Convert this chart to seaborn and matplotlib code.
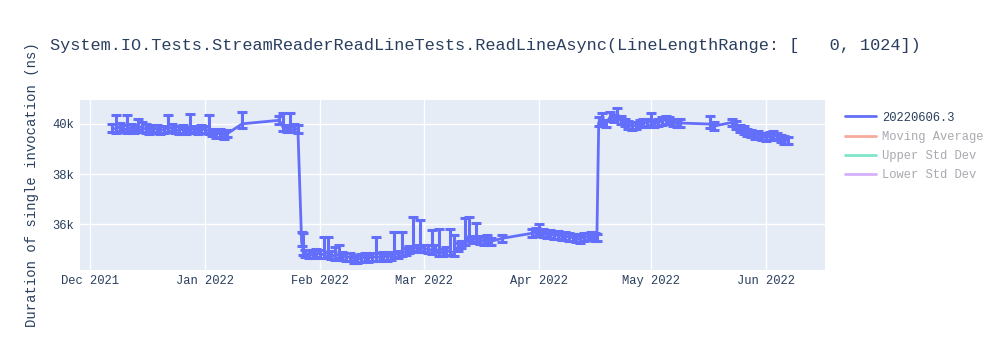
import matplotlib
matplotlib.use("Agg")
import matplotlib.pyplot as plt
import matplotlib.dates as mdates
from matplotlib.lines import Line2D
import seaborn as sns
import pandas as pd
import numpy as np

# ---------------- data ----------------
dates = [
    "2021-12-07", "2021-12-08", "2021-12-09", "2021-12-10", "2021-12-11", "2021-12-12",
    "2021-12-13", "2021-12-14", "2021-12-15", "2021-12-16", "2021-12-17", "2021-12-18",
    "2021-12-19", "2021-12-20", "2021-12-21", "2021-12-22", "2021-12-23", "2021-12-24",
    "2021-12-25", "2021-12-26", "2021-12-27", "2021-12-28", "2021-12-29", "2021-12-30",
    "2021-12-31", "2022-01-01", "2022-01-02", "2022-01-03", "2022-01-04", "2022-01-05",
    "2022-01-06", "2022-01-07", "2022-01-11", "2022-01-21", "2022-01-22", "2022-01-23",
    "2022-01-24", "2022-01-25", "2022-01-26", "2022-01-27", "2022-01-27 12:00",
    "2022-01-28", "2022-01-29", "2022-01-30", "2022-01-31", "2022-02-01", "2022-02-02",
    "2022-02-03", "2022-02-04", "2022-02-05", "2022-02-06", "2022-02-07", "2022-02-08",
    "2022-02-09", "2022-02-10", "2022-02-11", "2022-02-12", "2022-02-13", "2022-02-14",
    "2022-02-15", "2022-02-16", "2022-02-17", "2022-02-18", "2022-02-19", "2022-02-20",
    "2022-02-21", "2022-02-22", "2022-02-23", "2022-02-24", "2022-02-25", "2022-02-26",
    "2022-02-27", "2022-02-28", "2022-03-01", "2022-03-02", "2022-03-03", "2022-03-04",
    "2022-03-05", "2022-03-06", "2022-03-07", "2022-03-08", "2022-03-09", "2022-03-10",
    "2022-03-11", "2022-03-12", "2022-03-13", "2022-03-14", "2022-03-15", "2022-03-16",
    "2022-03-17", "2022-03-18", "2022-03-19", "2022-03-22", "2022-03-30", "2022-03-31",
    "2022-04-01", "2022-04-02", "2022-04-03", "2022-04-04", "2022-04-05", "2022-04-06",
    "2022-04-07", "2022-04-08", "2022-04-09", "2022-04-10", "2022-04-11", "2022-04-12",
    "2022-04-13", "2022-04-14", "2022-04-15", "2022-04-16", "2022-04-16 12:00",
    "2022-04-17", "2022-04-18", "2022-04-19", "2022-04-20", "2022-04-21", "2022-04-22",
    "2022-04-23", "2022-04-24", "2022-04-25", "2022-04-26", "2022-04-27", "2022-04-28",
    "2022-04-29", "2022-04-30", "2022-05-01", "2022-05-02", "2022-05-03", "2022-05-04",
    "2022-05-05", "2022-05-06", "2022-05-07", "2022-05-08", "2022-05-09", "2022-05-17",
    "2022-05-18", "2022-05-23", "2022-05-24", "2022-05-25", "2022-05-26", "2022-05-27",
    "2022-05-28", "2022-05-29", "2022-05-30", "2022-05-31", "2022-06-01", "2022-06-02",
    "2022-06-03", "2022-06-04", "2022-06-05", "2022-06-06", "2022-06-07",
]

durations = [
    39820, 39780, 39870, 39800, 39760, 39840,
    39780, 39900, 39830, 39780, 39720, 39800,
    39780, 39740, 39760, 39800, 39840, 39760,
    39740, 39780, 39720, 39800, 39760, 39720,
    39790, 39760, 39720, 39650, 39580, 39620,
    39550, 39600, 39990, 40130, 39850, 39800,
    39900, 39820, 39780, 35300, 34950,
    34850, 34820, 34800, 34860, 34830, 34800,
    34900, 34780, 34760, 34800, 34740, 34720,
    34700, 34640, 34620, 34660, 34700, 34680,
    34700, 34720, 34700, 34740, 34720, 34760,
    34860, 34800, 34900, 34920, 35000, 35100,
    35050, 35080, 35040, 35020, 34980, 35050,
    34900, 34880, 34950, 34920, 34880, 35100,
    35200, 35350, 35500, 35400, 35450, 35380,
    35350, 35420, 35330, 35450, 35650, 35700,
    35720, 35650, 35600, 35620, 35560, 35580,
    35520, 35540, 35500, 35480, 35460, 35420,
    35500, 35520, 35560, 35500, 35480,
    40050, 40150, 40000, 40250, 40200, 40350,
    40150, 40050, 39950, 39900, 39920, 40000,
    40050, 40020, 40100, 40000, 40050, 40100,
    40150, 40120, 40050, 40000, 40020, 39980,
    39900, 40050, 39950, 39800, 39750, 39650,
    39600, 39520, 39560, 39480, 39450, 39500,
    39550, 39480, 39400, 39350, 39330,
]

err_plus = [
    150, 560, 150, 150, 580, 150,
    150, 300, 220, 200, 150, 150,
    150, 150, 150, 520, 150, 150,
    150, 150, 150, 560, 150, 150,
    150, 150, 600, 150, 150, 150,
    150, 150, 450, 150, 550, 150,
    500, 150, 150, 400, 700,
    150, 150, 150, 150, 150, 700,
    600, 150, 350, 400, 150, 150,
    150, 150, 150, 150, 150, 150,
    150, 800, 150, 150, 150, 150,
    860, 150, 800, 150, 150, 1200,
    150, 1100, 150, 150, 800, 150,
    900, 150, 150, 900, 700, 150,
    150, 900, 780, 150, 600, 150,
    150, 150, 150, 150, 150, 150,
    300, 150, 150, 150, 150, 150,
    150, 150, 150, 150, 150, 150,
    150, 150, 150, 150, 150,
    200, 250, 150, 200, 150, 250,
    150, 150, 150, 150, 150, 150,
    150, 150, 300, 150, 150, 150,
    150, 150, 150, 150, 150, 300,
    150, 150, 150, 150, 150, 150,
    150, 150, 150, 150, 150, 150,
    150, 150, 150, 150, 150,
]

err_minus = [150] * len(durations)

series_name = "20220606.3"
legend_labels = [series_name, "Moving Average", "Upper Std Dev", "Lower Std Dev"]
legend_colors = ["#636EFA", "#EF553B", "#00CC96", "#AB63FA"]

title = "System.IO.Tests.StreamReaderReadLineTests.ReadLineAsync(LineLengthRange: [   0, 1024])"
ylabel = "Duration of single invocation (ns)"
yticks = [36000, 38000, 40000]
ytick_labels = ["36k", "38k", "40k"]

# ---------------- plotting ----------------
df = pd.DataFrame({
    "date": pd.to_datetime(dates, format="mixed"),
    "duration": durations,
    "plus": err_plus,
    "minus": err_minus,
})

sns.set_theme(style="darkgrid", rc={
    "axes.facecolor": "#E5ECF6",
    "grid.color": "white",
    "grid.linewidth": 1.0,
    "axes.edgecolor": "#E5ECF6",
})
mono = ["Liberation Mono", "DejaVu Sans Mono"]
plt.rcParams["font.family"] = mono
text_color = "#2a3f5f"

fig = plt.figure(figsize=(10, 3.5), dpi=100)
ax = fig.add_axes([0.080, 0.229, 0.745, 0.485])

color = "#636EFA"
ax.errorbar(df["date"], df["duration"], yerr=[df["minus"], df["plus"]],
            fmt="none", ecolor=color, elinewidth=2.2, capsize=3.5, capthick=2.2, zorder=2)
sns.lineplot(data=df, x="date", y="duration", ax=ax, color=color,
             linewidth=2, zorder=3, legend=False)

ax.set_xlim(pd.Timestamp("2021-11-28 08:00"), pd.Timestamp("2022-06-16 22:00"))
ax.set_ylim(34200, 40930)
ax.set_yticks(yticks)
ax.set_yticklabels(ytick_labels)
ax.xaxis.set_major_locator(mdates.MonthLocator())
ax.xaxis.set_major_formatter(mdates.DateFormatter("%b %Y"))
ax.tick_params(axis="both", length=0, labelsize=8.7, colors=text_color, pad=4)
ax.set_xlabel("")
ax.set_ylabel(ylabel, fontsize=10, color=text_color, labelpad=10)
ax.yaxis.set_label_coords(-0.055, 0.5)
for s in ax.spines.values():
    s.set_visible(False)

fig.text(0.05, 0.87, title, fontsize=12.2, color=text_color, ha="left", va="center",
         family=mono)

handles = []
for i, (lab, c) in enumerate(zip(legend_labels, legend_colors)):
    handles.append(Line2D([0], [0], color=c, lw=2, alpha=1.0 if i == 0 else 0.5))
leg = fig.legend(handles, legend_labels, loc="upper left", bbox_to_anchor=(0.840, 0.695),
                 frameon=False, fontsize=8.7, handlelength=2.6, handletextpad=0.5,
                 labelspacing=0.6, borderaxespad=0)
for i, t in enumerate(leg.get_texts()):
    t.set_color(text_color if i == 0 else "#a9a9b0")

fig.savefig("out.png", dpi=100)
